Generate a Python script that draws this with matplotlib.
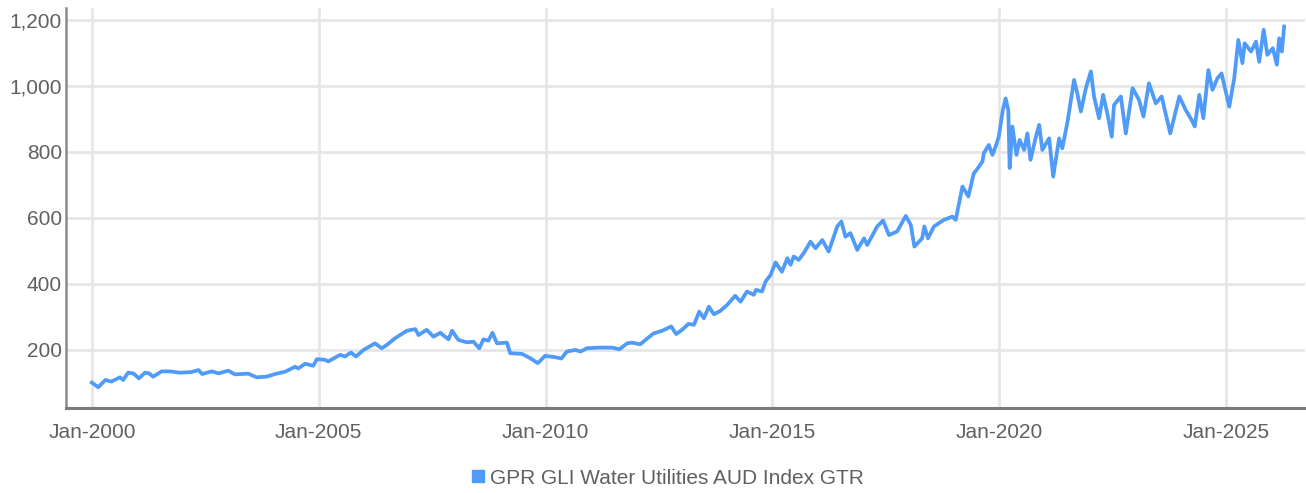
import matplotlib
matplotlib.use("Agg")
import matplotlib.pyplot as plt
from matplotlib.lines import Line2D

# ---- data (decimal year, index level) ----
years = [
    2000.00, 2000.14, 2000.30, 2000.43, 2000.62, 2000.69, 2000.80, 2000.91, 2001.04, 2001.17,
    2001.26, 2001.35, 2001.54, 2001.72, 2001.94, 2002.20, 2002.35, 2002.43, 2002.64, 2002.79,
    2003.01, 2003.15, 2003.45, 2003.63, 2003.85, 2004.04, 2004.26, 2004.48, 2004.55, 2004.70,
    2004.88, 2004.96, 2005.14, 2005.21, 2005.47, 2005.58, 2005.71, 2005.82, 2005.99, 2006.24,
    2006.39, 2006.50, 2006.68, 2006.94, 2007.13, 2007.20, 2007.38, 2007.53, 2007.68, 2007.86,
    2007.94, 2008.08, 2008.27, 2008.41, 2008.54, 2008.63, 2008.74, 2008.83, 2008.93, 2009.15,
    2009.22, 2009.48, 2009.66, 2009.83, 2009.99, 2010.21, 2010.35, 2010.47, 2010.66, 2010.77,
    2010.91, 2011.17, 2011.46, 2011.63, 2011.80, 2011.91, 2012.09, 2012.20, 2012.38, 2012.57,
    2012.77, 2012.88, 2013.01, 2013.15, 2013.27, 2013.39, 2013.49, 2013.60, 2013.71, 2013.85,
    2014.00, 2014.18, 2014.30, 2014.44, 2014.59, 2014.64, 2014.77, 2014.85, 2014.96, 2015.07,
    2015.21, 2015.33, 2015.40, 2015.47, 2015.58, 2015.69, 2015.84, 2015.95, 2016.10, 2016.24,
    2016.43, 2016.52, 2016.61, 2016.72, 2016.87, 2017.02, 2017.09, 2017.31, 2017.44, 2017.57,
    2017.75, 2017.94, 2018.05, 2018.13, 2018.30, 2018.35, 2018.43, 2018.56, 2018.78, 2018.97,
    2019.04, 2019.19, 2019.32, 2019.44, 2019.50, 2019.63, 2019.66, 2019.77, 2019.85, 2019.92,
    2019.99, 2020.08, 2020.14, 2020.20, 2020.23, 2020.29, 2020.38, 2020.45, 2020.55, 2020.62,
    2020.69, 2020.80, 2020.88, 2020.95, 2021.10, 2021.19, 2021.32, 2021.39, 2021.50, 2021.65,
    2021.72, 2021.80, 2021.91, 2022.02, 2022.09, 2022.20, 2022.29, 2022.39, 2022.48, 2022.53,
    2022.68, 2022.79, 2022.94, 2023.08, 2023.18, 2023.30, 2023.45, 2023.58, 2023.77, 2023.97,
    2024.11, 2024.24, 2024.31, 2024.41, 2024.50, 2024.61, 2024.70, 2024.81, 2024.90, 2025.00,
    2025.07, 2025.18, 2025.27, 2025.36, 2025.41, 2025.55, 2025.66, 2025.73, 2025.83, 2025.91,
    2026.03, 2026.12, 2026.17, 2026.23, 2026.28,
]
values = [
    101, 87, 109, 104, 117, 109, 131, 129, 114, 131,
    129, 119, 135, 135, 131, 133, 139, 127, 135, 129,
    137, 126, 128, 117, 119, 127, 134, 149, 144, 158,
    152, 172, 170, 165, 185, 180, 192, 180, 200, 220,
    205, 215, 235, 258, 263, 245, 261, 240, 252, 232,
    258, 230, 223, 225, 205, 232, 228, 252, 220, 222,
    190, 188, 175, 160, 182, 178, 174, 195, 200, 195,
    205, 207, 207, 202, 220, 222, 217, 230, 250, 258,
    271, 248, 261, 279, 276, 316, 296, 331, 308, 318,
    336, 364, 346, 377, 367, 382, 377, 407, 427, 465,
    437, 478, 458, 483, 473, 493, 528, 508, 533, 498,
    574, 589, 543, 554, 503, 538, 518, 574, 592, 548,
    559, 606, 579, 513, 538, 574, 538, 574, 594, 604,
    594, 695, 665, 735, 745, 771, 796, 821, 791, 816,
    846, 927, 962, 927, 751, 877, 791, 836, 806, 856,
    776, 841, 882, 806, 841, 725, 841, 811, 887, 1018,
    978, 922, 993, 1044, 968, 902, 973, 912, 846, 942,
    968, 856, 993, 958, 907, 1008, 947, 968, 856, 968,
    927, 897, 877, 973, 902, 1048, 988, 1023, 1038, 978,
    937, 1023, 1139, 1069, 1129, 1104, 1134, 1073, 1170, 1094,
    1114, 1064, 1144, 1104, 1180,
]
series_name = "GPR GLI Water Utilities AUD Index GTR"
x_tick_years = [2000, 2005, 2010, 2015, 2020, 2025]
x_tick_labels = ["Jan-2000", "Jan-2005", "Jan-2010", "Jan-2015", "Jan-2020", "Jan-2025"]
y_ticks = [200, 400, 600, 800, 1000, 1200]
y_tick_labels = ["200", "400", "600", "800", "1,000", "1,200"]

# ---- style ----
FONT = ["Liberation Sans Narrow", "Liberation Sans", "DejaVu Sans"]
plt.rcParams["font.family"] = FONT
TEXT_C = "#606060"
LINE_C = "#4f9bf7"
GRID_C = "#e6e6e6"

fig = plt.figure(figsize=(13.06, 4.93), dpi=100)
ax = fig.add_axes([66 / 1306, 1 - 408 / 493, (1305 - 66) / 1306, 400 / 493])

ax.plot(years, values, color=LINE_C, linewidth=2.7, solid_joinstyle="round")

ax.set_xlim(1999.43, 2026.74)
ax.set_ylim(24, 1236)
ax.set_xticks(x_tick_years)
ax.set_xticklabels(x_tick_labels)
ax.set_yticks(y_ticks)
ax.set_yticklabels(y_tick_labels)
ax.tick_params(axis="both", length=0, labelsize=15, labelcolor=TEXT_C)
ax.tick_params(axis="x", pad=11)
ax.tick_params(axis="y", pad=3)

ax.grid(True, color=GRID_C, linewidth=2)
ax.set_axisbelow(True)
for s in ["top", "right"]:
    ax.spines[s].set_visible(False)
ax.spines["left"].set_color("#8a8a8a")
ax.spines["left"].set_linewidth(1.8)
ax.spines["bottom"].set_color("#7a7a7a")
ax.spines["bottom"].set_linewidth(2.2)

handle = Line2D([], [], linestyle="none", marker="s", markersize=8,
                markerfacecolor=LINE_C, markeredgecolor=LINE_C)
fig.legend([handle], [series_name], loc="center", bbox_to_anchor=(668 / 1306, 1 - 478 / 493),
           frameon=False, fontsize=15, labelcolor=TEXT_C, handlelength=0.6,
           handletextpad=0.3, borderpad=0)

fig.savefig("out.png", dpi=100)
